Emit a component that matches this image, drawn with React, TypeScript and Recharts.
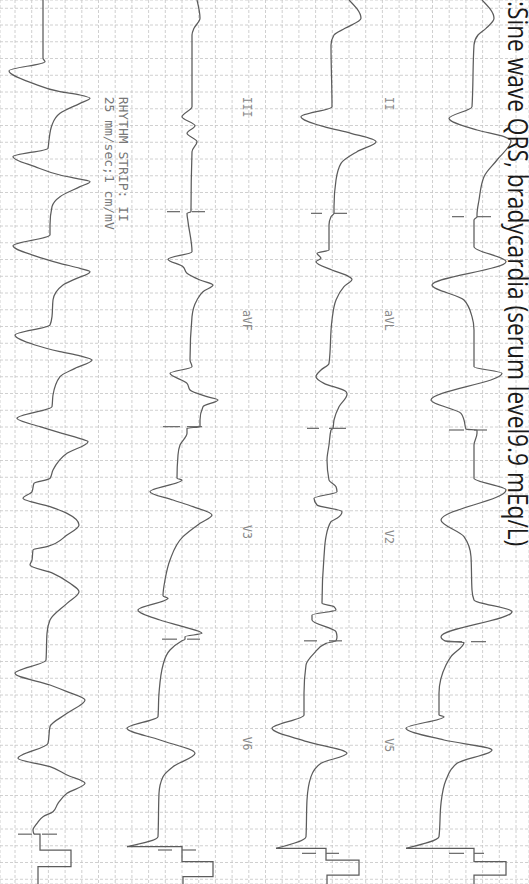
import React from 'react';
import { LineChart, Line, XAxis, YAxis, CartesianGrid, ReferenceDot, ReferenceLine } from 'recharts';

// ---- paper / photo geometry (layout, not data) ----
const W = 529;
const H = 884;
const SEC_PER_PX = 0.012; // 25 mm/s as photographed
const MV_PER_PX = 0.03; // 10 mm/mV as photographed
const baseA = 43; // rhythm strip baseline (px from left)
const baseB = 190; // III / aVF / V3 / V6 row
const baseC = 331; // II / aVL / V2 / V5 row
const baseD = 474; // I / aVR / V1 / V4 row

// ---- data: [time (s), amplitude (mV)] ----
const rhythmII: [number, number][] = [
  [0, 0], [0.7, 0], [0.74, 0.06], [0.85, -1.02], [1.0, -0.3], [1.1, 0.51], [1.14, 1.11], [1.18, 1.41],
  [1.24, 1.11], [1.36, 0.51], [1.5, 0.27], [1.68, 0.18], [1.78, 0.15], [1.88, -0.9], [2.0, -0.24],
  [2.1, 0.51], [2.15, 1.11], [2.18, 1.41], [2.24, 1.11], [2.36, 0.51], [2.48, 0.27], [2.7, 0.21],
  [2.82, 0.21], [2.95, -0.9], [3.07, -0.24], [3.16, 0.51], [3.22, 1.11], [3.26, 1.41], [3.35, 0.96],
  [3.42, 0.6], [3.6, 0.3], [3.8, 0.27], [3.9, 0.21], [4.02, -0.84], [4.14, -0.24], [4.22, 0.51],
  [4.27, 1.11], [4.32, 1.47], [4.42, 0.96], [4.52, 0.51], [4.74, 0.3], [4.88, 0.27], [5.02, -0.78],
  [5.12, -0.09], [5.21, 0.66], [5.27, 1.17], [5.3, 1.35], [5.44, 0.72], [5.64, 0.3], [5.74, 0.21],
  [5.8, -0.27], [5.9, -0.33], [5.98, -0.6], [6.08, 0.21], [6.16, 0.72], [6.3, 1.08], [6.42, 0.72],
  [6.56, 0.12], [6.6, -0.3], [6.72, -0.33], [6.78, -0.39], [6.88, 0.3], [7.0, 0.81], [7.1, 1.08],
  [7.24, 0.72], [7.44, 0.21], [7.6, 0.12], [7.92, 0.09], [8.08, -0.84], [8.22, 0.21], [8.3, 0.72],
  [8.4, 1.26], [8.56, 0.72], [8.72, 0.21], [8.92, 0.15], [9.1, -0.75], [9.2, 0.21], [9.3, 0.72],
  [9.4, 1.26], [9.52, 0.72], [9.64, 0.45], [9.74, 0.3], [9.8, 0], [9.88, -0.18], [9.96, -0.3],
  [10.01, -0.27],
];
const rhythmIICal: [number, number][] = [
  [10.01, -0.27], [10.01, -0.09], [10.2, -0.09], [10.2, 0.84], [10.4, 0.84], [10.4, -0.15], [10.61, -0.15],
];

const rowIII: [number, number][] = [
  [0, 0.21], [0.22, 0.3], [0.34, 0.12], [0.42, 0.06], [1.28, 0.06], [1.4, -0.24], [1.51, 0.15],
  [1.6, -0.09], [1.7, 0.21], [1.82, 0.06], [2.53, 0.03], [2.54, 0.03], [2.56, -0.09], [2.66, -0.06],
  [3.02, 0.06], [3.11, -0.66], [3.2, -0.21], [3.28, -0.09], [3.36, 0.3], [3.42, 0.69], [3.5, 0.39],
  [3.6, 0.21], [3.8, 0.06], [4.32, 0], [4.4, 0.06], [4.48, -0.6], [4.6, -0.09], [4.68, 0], [4.76, 0.51],
  [4.8, 0.84], [4.88, 0.39], [5.04, 0.3], [5.12, 0.3], [5.14, -0.09], [5.2, -0.09], [5.34, -0.3],
  [5.46, -0.36], [5.74, -0.39], [5.76, -0.24], [5.9, -1.2], [6.0, -0.51], [6.08, 0.09], [6.18, 0.66],
  [6.28, 0.3], [6.44, -0.21], [6.72, -0.6], [6.96, -0.75], [7.15, -0.81], [7.18, -0.66], [7.32, -1.56],
  [7.44, -0.9], [7.52, -0.21], [7.6, 0.36], [7.64, -0.15], [7.67, -0.15], [7.69, -0.24], [7.8, -0.6],
  [7.98, -0.81], [8.32, -0.93], [8.6, -0.96], [8.74, -1.89], [8.88, -0.9], [9.04, 0.15], [9.2, -0.51],
  [9.32, -0.81], [9.52, -0.93], [10.04, -0.96], [10.16, -1.89],
];
const rowIIICal: [number, number][] = [
  [10.16, -1.89], [10.16, -0.24], [10.34, -0.24], [10.34, 0.69], [10.52, 0.69], [10.52, -0.21], [10.61, -0.21],
];

const rowII: [number, number][] = [
  [0, 0.54], [0.22, 0.9], [0.34, 0.42], [0.42, 0.09], [0.54, 0], [1.28, 0.03], [1.4, -0.9], [1.52, -0.21],
  [1.6, 0.6], [1.7, 1.35], [1.82, 0.78], [1.96, 0.3], [2.16, 0.15], [2.48, 0.09], [2.56, 0.09], [2.6, 0],
  [2.7, -0.06], [3.0, -0.06], [3.04, -0.42], [3.1, -0.3], [3.14, -0.45], [3.24, 0.03], [3.32, 0.54],
  [3.35, 0.63], [3.44, 0.39], [3.6, 0.15], [3.84, 0.03], [4.36, -0.06], [4.44, -0.3], [4.52, -0.45],
  [4.6, -0.21], [4.7, 0.45], [4.73, 0.48], [4.88, 0.24], [5.04, 0.09], [5.14, 0.06], [5.16, 0],
  [5.34, -0.06], [5.52, -0.12], [5.76, -0.06], [5.84, 0.15], [5.9, 0.18], [5.98, -0.51], [6.06, -0.42],
  [6.14, 0.33], [6.22, 0.18], [6.26, 0], [6.44, -0.15], [6.68, -0.21], [7.24, -0.27], [7.28, 0.09],
  [7.32, 0.15], [7.38, -0.57], [7.44, -0.57], [7.58, 0.15], [7.64, 0.18], [7.69, 0.15], [7.72, -0.15],
  [7.84, -0.51], [7.98, -0.75], [8.32, -0.81], [8.58, -0.81], [8.74, -1.77], [8.9, -0.72], [9.04, 0.48],
  [9.16, -0.3], [9.32, -0.6], [9.6, -0.72], [10.04, -0.75], [10.18, -1.65],
];
const rowIICal: [number, number][] = [
  [10.18, -1.65], [10.18, -0.15], [10.32, -0.15], [10.32, 0.84], [10.5, 0.84], [10.5, -0.12], [10.61, -0.12],
];

const rowI: [number, number][] = [
  [0, 0.24], [0.22, 0.6], [0.34, 0.36], [0.42, 0.12], [0.54, 0], [1.28, -0.06], [1.42, -0.75], [1.56, 0.09],
  [1.64, 0.9], [1.69, 1.11], [1.92, 0.69], [2.12, 0.3], [2.4, 0.15], [2.58, 0.09], [2.6, 0.09], [2.64, 0],
  [2.96, 0], [3.14, 0.96], [3.42, -1.26], [3.6, -0.3], [3.8, -0.06], [3.96, 0], [4.4, 0], [4.48, 0.84],
  [4.8, -1.29], [4.96, -0.39], [5.04, -0.3], [5.15, -0.24], [5.16, 0.09], [5.2, 0.09], [5.34, 0],
  [5.74, 0], [5.88, 0.96], [6.24, -0.99], [6.44, -0.3], [6.68, -0.09], [7.08, -0.06], [7.2, 0],
  [7.34, 1.14], [7.64, -0.99], [7.69, -0.87], [7.71, -0.3], [7.88, -0.69], [7.98, -0.84], [8.32, -1.05],
  [8.58, -1.05], [8.6, -0.9], [8.74, -2.04], [8.88, -0.9], [9.0, 0.54], [9.16, -0.51], [9.36, -0.84],
  [9.64, -0.99], [10.04, -1.05], [10.18, -2.04],
];
const rowICal: [number, number][] = [
  [10.18, -2.04], [10.18, 0], [10.34, 0], [10.34, 0.96], [10.5, 0.96], [10.5, 0], [10.61, 0],
];

// lead-change markers: [time s, left piece from, to, right piece from, to] (mV)
const sepA = [[10.01, -0.75, -0.33, -0.03, 0.42]];
const sepB = [[2.54, -0.69, -0.3, 0.06, 0.45], [5.12, -0.81, -0.3, -0.09, 0.36], [7.67, -0.84, -0.39, -0.09, 0.3], [10.2, -0.96, -0.54, -0.24, 0.18]];
const sepC = [[2.56, -0.6, -0.27, 0.09, 0.48], [5.14, -0.72, -0.36, -0.06, 0.45], [7.69, -0.81, -0.42, -0.06, 0.33], [10.24, -0.87, -0.45, -0.15, 0.24]];
const sepD = [[2.6, -0.66, -0.3, 0.09, 0.51], [5.16, -0.75, -0.3, 0, 0.39], [7.7, -0.81, -0.36, -0.09, 0.36], [10.24, -0.75, -0.3, 0, 0.3]];

// lead labels
const leadsRowIII = ['III', 'aVF', 'V3', 'V6'];
const leadTimesRowIII = [1.16, 3.72, 6.3, 8.84];
const leadsRowII = ['II', 'aVL', 'V2', 'V5'];
const leadTimesRowII = [1.16, 3.72, 6.36, 8.86];
const stripLines = ['RHYTHM STRIP: II', '25 mm/sec;1 cm/mV'];
const stripLineAmps = [2.4, 2.0];
const title = ':Sine wave QRS, bradycardia (serum level9.9 mEq/L)';

// ---- helpers ----
const rows = (pts: [number, number][]) => pts.map(([t, v]) => ({ t, v }));
const dom = (base: number): [number, number] => [-base * MV_PER_PX, (W - base) * MV_PER_PX];
const gridT: number[] = [];
for (let k = 0; k < 53; k++) gridT.push(+(0.099 + 0.201 * k).toFixed(4));
const gridX: number[] = [];
for (let k = 0; k < 31; k++) gridX.push(+(0.45 + 0.501 * k).toFixed(4));

const TRACE = '#5c5c5c';
const rotText = (text: string, size: number, color: string, family: string) => (p: any) => (
  <text
    x={p.cx}
    y={p.cy}
    transform={`rotate(90 ${p.cx} ${p.cy})`}
    fontSize={size}
    fill={color}
    fontFamily={family}
    dominantBaseline="central"
    textAnchor="start"
  >
    {text}
  </text>
);
const MONO = "'DejaVu Sans Mono', 'Liberation Mono', monospace";

const traces = [
  { id: 'A', base: baseA, data: rhythmII, cal: rhythmIICal, sep: sepA },
  { id: 'B', base: baseB, data: rowIII, cal: rowIIICal, sep: sepB },
  { id: 'C', base: baseC, data: rowII, cal: rowIICal, sep: sepC },
  { id: 'D', base: baseD, data: rowI, cal: rowICal, sep: sepD },
];

export default function App() {
  return (
    <div style={{ position: 'absolute', left: 0, top: 0, width: W, height: H, background: '#fff', overflow: 'hidden' }}>
      <LineChart layout="vertical" width={W} height={H} margin={{ top: 0, right: 0, bottom: 0, left: 0 }}>
        <XAxis xAxisId="gx" type="number" domain={[0, W * MV_PER_PX]} ticks={gridX} interval={0} hide allowDataOverflow />
        {traces.map((tr) => (
          <XAxis key={tr.id} xAxisId={tr.id} type="number" domain={dom(tr.base)} hide allowDataOverflow />
        ))}
        <YAxis yAxisId="t" type="number" dataKey="t" domain={[0, H * SEC_PER_PX]} ticks={gridT} interval={0} hide allowDataOverflow />
        <CartesianGrid xAxisId="gx" yAxisId="t" stroke="#c4c4c4" strokeDasharray="3 2" strokeWidth={0.8} />
        {traces.map((tr) => (
          <Line
            key={'l' + tr.id}
            xAxisId={tr.id}
            yAxisId="t"
            data={rows(tr.data)}
            dataKey="v"
            type="monotoneY"
            stroke={TRACE}
            strokeWidth={1.25}
            dot={false}
            activeDot={false}
            isAnimationActive={false}
          />
        ))}
        {traces.map((tr) => (
          <Line
            key={'c' + tr.id}
            xAxisId={tr.id}
            yAxisId="t"
            data={rows(tr.cal)}
            dataKey="v"
            type="linear"
            stroke={TRACE}
            strokeWidth={1.25}
            dot={false}
            activeDot={false}
            isAnimationActive={false}
          />
        ))}
        {traces.map((tr) =>
          tr.sep.map(([t, l1, l2, r1, r2], i) => [
            <ReferenceLine
              key={`sl${tr.id}${i}`}
              xAxisId={tr.id}
              yAxisId="t"
              segment={[{ x: l1, y: t }, { x: l2, y: t }]}
              stroke="#666"
              strokeWidth={1.2}
            />,
            <ReferenceLine
              key={`sr${tr.id}${i}`}
              xAxisId={tr.id}
              yAxisId="t"
              segment={[{ x: r1, y: t }, { x: r2, y: t }]}
              stroke="#666"
              strokeWidth={1.2}
            />,
          ])
        )}
        {leadsRowIII.map((s, i) => (
          <ReferenceDot key={'b' + s} xAxisId="B" yAxisId="t" x={1.7} y={leadTimesRowIII[i]} r={0} shape={rotText(s, 11.5, '#888', MONO)} />
        ))}
        {leadsRowII.map((s, i) => (
          <ReferenceDot key={'c' + s} xAxisId="C" yAxisId="t" x={1.75} y={leadTimesRowII[i]} r={0} shape={rotText(s, 11.5, '#888', MONO)} />
        ))}
        {stripLines.map((s, i) => (
          <ReferenceDot key={'r' + i} xAxisId="A" yAxisId="t" x={stripLineAmps[i]} y={1.16} r={0} shape={rotText(s, 13, '#777', MONO)} />
        ))}
      </LineChart>
      <svg width={W} height={H} style={{ position: 'absolute', left: 0, top: 0, pointerEvents: 'none' }}>
        <text
          transform="translate(508,1) rotate(90) scale(1,1.18)"
          fontFamily="'Open Sans', sans-serif"
          fontSize={22.7}
          fill="#1a1a1a"
        >
          {title}
        </text>
      </svg>
    </div>
  );
}
